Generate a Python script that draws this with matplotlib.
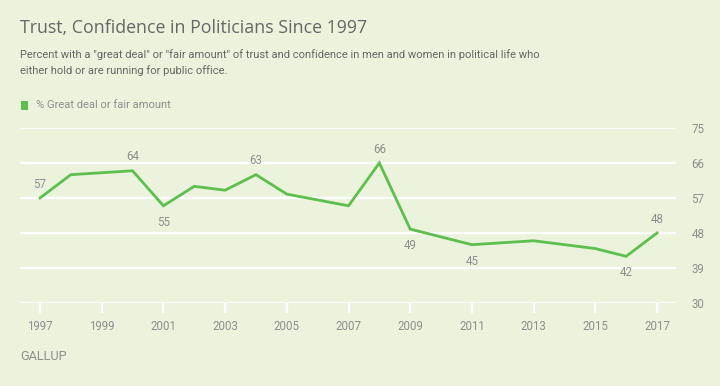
import matplotlib
matplotlib.use("Agg")
import matplotlib.pyplot as plt
from matplotlib.patches import Rectangle

years = [1997, 1998, 2000, 2001, 2002, 2003, 2004, 2005, 2007, 2008, 2009, 2011, 2013, 2015, 2016, 2017]
values = [57, 63, 64, 55, 60, 59, 63, 58, 55, 66, 49, 45, 46, 44, 42, 48]
label_years = [1997, 2000, 2001, 2004, 2008, 2009, 2011, 2016, 2017]
label_pos = ["above", "above", "below", "above", "above", "below", "below", "below", "above"]
x_ticks = list(range(1997, 2018, 2))
y_ticks = [30, 39, 48, 57, 66, 75]

title = "Trust, Confidence in Politicians Since 1997"
subtitle1 = "Percent with a \"great deal\" or \"fair amount\" of trust and confidence in men and women in political life who"
subtitle2 = "either hold or are running for public office."
legend_label = "% Great deal or fair amount"
source = "GALLUP"

BG = "#EBF3DD"
GREEN = "#5DBF4E"
GRAY = "#8E8E8E"
DARK = "#666666"
FONT = "Roboto"
TITLE_FONT = "Open Sans"

plt.rcParams["font.family"] = [FONT, "DejaVu Sans"]

W, H = 720, 386
fig = plt.figure(figsize=(W / 100, H / 100), dpi=100, facecolor=BG)

def fx(px):
    return px / W

def fy(py):
    return 1 - py / H

ax = fig.add_axes([fx(20), fy(303), fx(676 - 20), (303 - 128) / H])
ax.set_facecolor(BG)
ax.set_ylim(30, 75)
ax.set_xlim(1997 - 20 / 30.85, 2017 + 19 / 30.85)
ax.set_yticks(y_ticks)
ax.set_xticks(x_ticks)
ax.yaxis.tick_right()
ax.grid(axis="y", color="white", linewidth=1.6, zorder=0)
ax.set_axisbelow(True)
for s in ax.spines.values():
    s.set_visible(False)
ax.tick_params(axis="y", length=0, pad=11, labelcolor=GRAY, labelsize=8.3)
ax.tick_params(axis="x", length=7.5, width=1.6, color="white", pad=5, labelcolor=GRAY, labelsize=8.3)

ax.plot(years, values, color=GREEN, linewidth=2.0, zorder=3, solid_joinstyle="miter")

for yr, pos in zip(label_years, label_pos):
    v = values[years.index(yr)]
    off = 10 if pos == "above" else -12
    ax.annotate(str(v), (yr, v), xytext=(0, off), textcoords="offset points",
                ha="center", va="center", color=GRAY, fontsize=8.3)

renderer = fig.canvas.get_renderer()

def fit_text(x0, yc, s, target_w, color, size0=10, family=None):
    kw = {}
    if family:
        kw["family"] = [family, "DejaVu Sans"]
    t = fig.text(fx(x0), fy(yc), s, color=color, fontsize=size0, ha="left", va="center", **kw)
    w = t.get_window_extent(renderer).width
    t.set_fontsize(size0 * target_w / w)
    return t

fit_text(20.5, 28, title, 348.5, DARK, 14, TITLE_FONT)
t1 = fit_text(20.5, 55, subtitle1, 518.5, DARK, 8)
fig.text(fx(20.5), fy(70.5), subtitle2, color=DARK, fontsize=t1.get_fontsize(), ha="left", va="center")

fig.patches.append(Rectangle((fx(20.5), fy(110)), fx(7.2), 9.3 / H, transform=fig.transFigure,
                             facecolor=GREEN, edgecolor="none"))
fit_text(36, 105, legend_label, 135.7, GRAY, 8)
fit_text(20, 356, source, 47.0, GRAY, 8)

fig.savefig("out.png", dpi=100, facecolor=BG)
